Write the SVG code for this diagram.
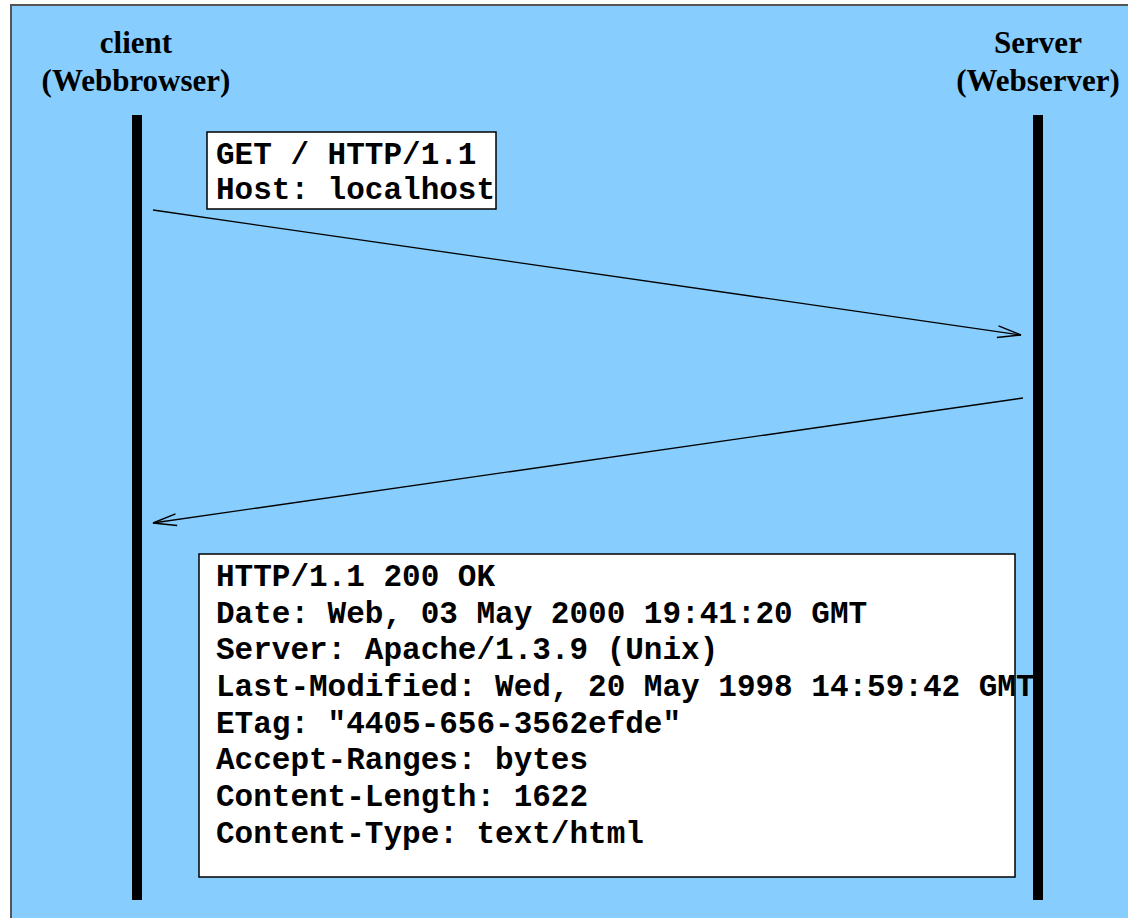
<svg xmlns="http://www.w3.org/2000/svg" width="1128" height="918" viewBox="0 0 1128 918">
<style>
.head{font-family:"Liberation Serif","Times New Roman",serif;font-weight:bold;font-size:31px;fill:#000;text-anchor:middle}
.mono{font-family:"Liberation Mono","Courier New",monospace;font-weight:bold;font-size:31px;fill:#000}
.box{fill:#fff;stroke:#000;stroke-width:1.5}
.life{stroke:#000;stroke-width:10}
.msg{stroke:#000;stroke-width:1.3;fill:none}
</style>
<defs>
<marker id="open" markerUnits="userSpaceOnUse" markerWidth="30" markerHeight="20" viewBox="-24 -8 28 16" refX="0" refY="0" orient="auto">
<polyline points="-22,-5.5 0,0 -22,5.5" fill="none" stroke="#000" stroke-width="1.3"/>
</marker>
</defs>
<rect x="11" y="5" width="1130" height="930" fill="#87CEFF" stroke="#555" stroke-width="2"/>
<g id="client">
<text class="head" x="136" y="53">client</text>
<text class="head" x="136" y="91">(Webbrowser)</text>
<line class="life" x1="137" y1="115" x2="137" y2="900"/>
</g>
<g id="request">
<rect class="box" x="207" y="132" width="289" height="77"/>
<text class="mono" x="216" y="164">GET / HTTP/1.1</text>
<text class="mono" x="216" y="199">Host: localhost</text>
</g>
<g id="response">
<rect class="box" x="199" y="554" width="816" height="323"/>
<text class="mono" x="216" y="586">HTTP/1.1 200 OK</text>
<text class="mono" x="216" y="623">Date: Web, 03 May 2000 19:41:20 GMT</text>
<text class="mono" x="216" y="659">Server: Apache/1.3.9 (Unix)</text>
<text class="mono" x="216" y="696">Last-Modified: Wed, 20 May 1998 14:59:42 GMT</text>
<text class="mono" x="216" y="733">ETag: "4405-656-3562efde"</text>
<text class="mono" x="216" y="769">Accept-Ranges: bytes</text>
<text class="mono" x="216" y="806">Content-Length: 1622</text>
<text class="mono" x="216" y="843">Content-Type: text/html</text>
</g>
<g id="server">
<text class="head" x="1038" y="53">Server</text>
<text class="head" x="1038" y="91">(Webserver)</text>
<line class="life" x1="1038" y1="115" x2="1038" y2="900"/>
</g>
<g id="connectors">
<line class="msg" x1="153" y1="210" x2="1021" y2="335" marker-end="url(#open)"/>
<line class="msg" x1="1023" y1="398" x2="153" y2="523" marker-end="url(#open)"/>
</g>
</svg>
